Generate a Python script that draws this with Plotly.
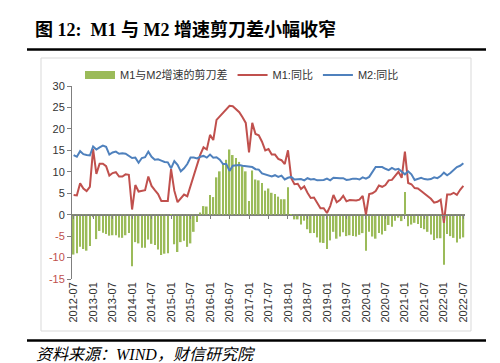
import plotly.graph_objects as go

months = []
for y in range(2012, 2023):
    for m in range(1, 13):
        if (y == 2012 and m < 7) or (y == 2022 and m > 7):
            continue
        months.append(f"{y}-{m:02d}")

m1 = [4.6, 4.5, 7.3, 6.1, 5.5, 6.5,
      15.3, 9.5, 11.9, 11.9, 11.3, 9.1, 9.7, 9.9, 8.9, 8.9, 9.4, 9.3,
      1.2, 6.9, 5.4, 5.5, 5.7, 8.9, 6.7, 5.7, 4.8, 3.2, 3.2, 3.2,
      10.6, 5.6, 2.9, 3.7, 4.7, 4.3, 6.6, 9.3, 11.4, 14.0, 15.7, 15.2,
      18.6, 17.4, 22.1, 22.9, 23.7, 24.6, 25.4, 25.3, 24.7, 23.9, 22.7, 21.4,
      14.5, 21.4, 18.8, 18.5, 17.0, 15.0, 15.3, 14.0, 14.0, 13.0, 12.7, 11.8,
      15.0, 8.5, 7.1, 7.2, 6.0, 6.6, 5.1, 3.9, 4.0, 2.7, 1.5, 1.5,
      0.4, 2.0, 4.6, 2.9, 3.4, 4.4, 3.1, 3.4, 3.4, 3.3, 3.5, 4.4,
      0.0, 4.8, 5.0, 5.5, 6.8, 6.5, 6.9, 8.0, 8.1, 9.1, 10.0, 8.6,
      14.7, 7.4, 7.1, 6.2, 6.1, 5.5, 4.9, 4.2, 3.7, 2.8, 3.0, 3.5,
      -1.9, 4.7, 4.7, 5.1, 4.6, 5.8, 6.7]

m2 = [13.9, 13.5, 14.8, 14.1, 13.9, 13.8,
      15.9, 15.2, 15.7, 16.1, 15.8, 14.0, 14.5, 14.7, 14.2, 14.3, 14.2, 13.6,
      13.2, 13.3, 12.1, 13.2, 13.4, 14.7, 13.5, 12.8, 12.9, 12.6, 12.3, 12.2,
      10.8, 12.5, 11.6, 10.1, 10.8, 11.8, 13.3, 13.3, 13.1, 13.5, 13.7, 13.3,
      14.0, 13.3, 13.4, 12.8, 11.8, 11.8, 10.2, 11.4, 11.5, 11.6, 11.4, 11.3,
      11.3, 11.1, 10.6, 10.5, 9.6, 9.4, 9.2, 8.9, 9.2, 8.8, 9.1, 8.2,
      8.6, 8.8, 8.2, 8.3, 8.3, 8.0, 8.5, 8.2, 8.3, 8.0, 8.0, 8.1,
      8.4, 8.0, 8.6, 8.5, 8.5, 8.5, 8.1, 8.2, 8.4, 8.4, 8.2, 8.7,
      8.4, 8.8, 10.1, 11.1, 11.1, 11.1, 10.7, 10.4, 10.9, 10.5, 10.7, 10.1,
      9.4, 10.1, 9.4, 8.1, 8.3, 8.6, 8.3, 8.2, 8.3, 8.7, 8.5, 9.0,
      9.8, 9.2, 9.7, 10.5, 11.1, 11.4, 12.0]

gap = [-9.3, -9.0, -7.5, -8.0, -8.4, -7.3,
       -0.6, -5.7, -3.8, -4.2, -4.5, -4.9, -4.8, -4.8, -5.3, -5.4, -4.8, -4.3,
       -12.0, -6.4, -6.7, -7.7, -7.7, -5.8, -6.8, -7.1, -8.1, -9.4, -9.1, -9.0,
       -0.2, -6.9, -8.7, -6.4, -6.1, -7.5, -6.7, -4.0, -1.7, 0.5, 2.0, 1.9,
       4.6, 4.1, 8.7, 10.1, 11.9, 12.8, 15.2, 13.9, 13.2, 12.3, 11.3, 10.1,
       3.2, 10.3, 8.2, 8.0, 7.4, 5.6, 6.1, 5.1, 4.8, 4.2, 3.6, 3.6,
       6.4, -0.3, -1.1, -1.1, -2.3, -1.4, -3.4, -4.3, -4.3, -5.3, -6.5, -6.6,
       -8.0, -6.0, -4.0, -5.6, -5.1, -4.1, -5.0, -4.8, -5.0, -5.1, -4.7, -4.3,
       -8.4, -4.0, -5.1, -5.6, -4.3, -4.6, -3.8, -2.4, -2.8, -1.4, -0.7, -1.5,
       5.3, -2.7, -2.3, -1.9, -2.2, -3.1, -3.4, -4.0, -4.6, -5.9, -5.5, -5.5,
       -11.7, -4.5, -5.0, -5.4, -6.5, -5.6, -5.3]

y_ticks = [30, 25, 20, 15, 10, 5, 0, -5, -10, -15]
x_ticks = months[::6]

GREEN = "#9BBB59"
RED = "#C0504D"
BLUE = "#4F81BD"
FONT = "Liberation Sans, Noto Sans CJK SC, sans-serif"

W, H = 500, 363
L, R, T, B = 64, 43, 78, 92
PW = W - L - R
PH = H - T - B


def px(x):
    return (x - L) / PW


def py(y):
    return (H - B - y) / PH


fig = go.Figure()
fig.add_trace(go.Bar(x=months, y=gap, marker_color=GREEN, marker_line_width=0,
                     name="M1与M2增速的剪刀差", showlegend=False))
fig.add_trace(go.Scatter(x=[None], y=[None], mode="lines",
                         line=dict(color=GREEN, width=8),
                         name="M1与M2增速的剪刀差"))
fig.add_trace(go.Scatter(x=months, y=m1, mode="lines", line=dict(color=RED, width=2),
                         name="M1:同比"))
fig.add_trace(go.Scatter(x=months, y=m2, mode="lines", line=dict(color=BLUE, width=2),
                         name="M2:同比"))

tick_text = [f'<span style="color:{RED}">{v}</span>' if v < 0 else str(v) for v in y_ticks]

fig.update_layout(
    width=W, height=H,
    margin=dict(l=L, r=R, t=T, b=B),
    plot_bgcolor="white", paper_bgcolor="white",
    bargap=0.5,
    font=dict(family=FONT, size=11, color="#333333"),
    showlegend=True,
    legend=dict(orientation="h", x=px(72), y=py(67), xanchor="left", yanchor="middle",
                font=dict(size=11, color="#333333"), bgcolor="rgba(0,0,0,0)",
                itemwidth=30, tracegroupgap=0),
    xaxis=dict(type="category", tickmode="array", tickvals=x_ticks, ticktext=x_ticks,
               tickangle=-90, showgrid=False, showline=False, ticks="",
               range=[-0.5, len(months) - 0.5], tickfont=dict(size=11, color="#333333")),
    xaxis2=dict(type="category", overlaying="x", anchor="free", position=1/3,
                range=[-0.5, len(months) - 0.5], tickmode="array", tickvals=x_ticks,
                ticktext=["" for _ in x_ticks],
                showticklabels=True, showline=True, linecolor="#7f7f7f", linewidth=1,
                ticks="outside", ticklen=3, tickcolor="#7f7f7f", showgrid=False),
    yaxis=dict(range=[-15, 30], tickmode="array", tickvals=y_ticks, ticktext=tick_text,
               showgrid=False, zeroline=True, zerolinecolor="#7f7f7f", zerolinewidth=1,
               showline=True, linecolor="#7f7f7f",
               linewidth=1, ticks="outside", ticklen=4, tickcolor="#7f7f7f",
               tickfont=dict(size=11, color="#333333")),
)
# invisible trace on xaxis2 so its axis renders
fig.add_trace(go.Scatter(x=months, y=[None] * len(months), xaxis="x2", showlegend=False,
                         hoverinfo="skip", mode="lines"))

shapes = [
    dict(type="rect", xref="paper", yref="paper", x0=px(33), x1=px(463), y0=py(323), y1=py(50),
         line=dict(color="#d9d9d9", width=1), fillcolor="rgba(0,0,0,0)", layer="below"),
    dict(type="line", xref="paper", yref="paper", x0=px(19), x1=px(478), y0=py(41.5), y1=py(41.5),
         line=dict(color="black", width=2.5)),
    dict(type="line", xref="paper", yref="paper", x0=px(19), x1=px(478), y0=py(332.5), y1=py(332.5),
         line=dict(color="black", width=2.5)),
]
fig.update_layout(shapes=shapes)

fig.add_annotation(text="<b>图 12:  M1 与 M2 增速剪刀差小幅收窄</b>", xref="paper", yref="paper",
                   x=px(25), y=py(21), xanchor="left", yanchor="middle", showarrow=False,
                   font=dict(family="Liberation Serif, Noto Sans CJK SC, serif", size=18, color="black"))
fig.add_annotation(text="<i>资料来源：WIND，财信研究院</i>", xref="paper", yref="paper",
                   x=px(26), y=py(346), xanchor="left", yanchor="middle", showarrow=False,
                   font=dict(family="Liberation Serif, Noto Sans CJK SC, serif", size=16, color="black"))

fig.write_html("out.html")
